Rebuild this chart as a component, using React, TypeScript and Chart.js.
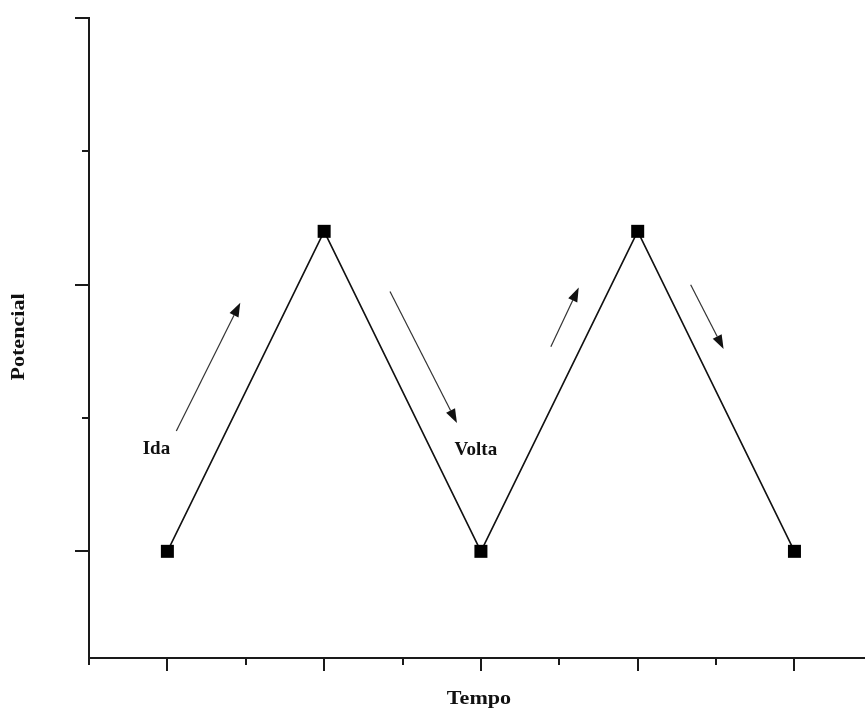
import React, { useEffect, useRef } from "react";
import { Chart, registerables } from "chart.js";

Chart.register(...registerables);

// Data
const tempo = [1, 2, 3, 4, 5];
const potencial = [0, 1.2, 0, 1.2, 0];

// Axis ticks
const xMajorTicks = [1, 2, 3, 4, 5];
const xMinorTicks = [0.5, 1.5, 2.5, 3.5, 4.5];
const yMajorTicks = [0, 1, 2];
const yMinorTicks = [0.5, 1.5];

// Annotations (data coordinates)
const arrowFrom = [
  [1.057, 0.451],
  [2.42, 0.974],
  [3.446, 0.767],
  [4.338, 1.0],
];
const arrowTo = [
  [1.465, 0.932],
  [2.847, 0.481],
  [3.624, 0.989],
  [4.548, 0.759],
];
const noteTexts = ["Ida", "Volta"];
const noteX = [0.93, 2.968];
const noteY = [0.383, 0.38];

const xTitle = "Tempo";
const yTitle = "Potencial";

const SERIF = '"Liberation Serif", "Times New Roman", serif';

const decorPlugin = {
  id: "decor",
  afterDraw(chart: any) {
    const { ctx, chartArea, scales } = chart;
    const xs = scales.x;
    const ys = scales.y;
    const { left, right, top, bottom } = chartArea;
    ctx.save();
    // arrows
    ctx.strokeStyle = "#333";
    ctx.fillStyle = "#111";
    ctx.lineWidth = 1.2;
    for (let i = 0; i < arrowFrom.length; i++) {
      const x1 = xs.getPixelForValue(arrowFrom[i][0]);
      const y1 = ys.getPixelForValue(arrowFrom[i][1]);
      const x2 = xs.getPixelForValue(arrowTo[i][0]);
      const y2 = ys.getPixelForValue(arrowTo[i][1]);
      const ang = Math.atan2(y2 - y1, x2 - x1);
      const hl = 14;
      const hw = 5;
      const bx = x2 - hl * Math.cos(ang);
      const by = y2 - hl * Math.sin(ang);
      ctx.beginPath();
      ctx.moveTo(x1, y1);
      ctx.lineTo(bx, by);
      ctx.stroke();
      ctx.beginPath();
      ctx.moveTo(x2, y2);
      ctx.lineTo(bx + hw * Math.sin(ang), by - hw * Math.cos(ang));
      ctx.lineTo(bx - hw * Math.sin(ang), by + hw * Math.cos(ang));
      ctx.closePath();
      ctx.fill();
    }
    // notes
    ctx.fillStyle = "#111";
    ctx.font = `bold 19px ${SERIF}`;
    ctx.textAlign = "center";
    ctx.textBaseline = "middle";
    for (let i = 0; i < noteTexts.length; i++) {
      ctx.fillText(noteTexts[i], xs.getPixelForValue(noteX[i]), ys.getPixelForValue(noteY[i]));
    }
    // axes
    ctx.strokeStyle = "#1a1a1a";
    ctx.lineWidth = 2;
    ctx.lineCap = "square";
    ctx.beginPath();
    ctx.moveTo(left, top);
    ctx.lineTo(left, bottom);
    ctx.lineTo(right, bottom);
    ctx.stroke();
    ctx.lineCap = "butt";
    ctx.beginPath();
    for (const v of xMajorTicks) {
      const p = Math.round(xs.getPixelForValue(v));
      ctx.moveTo(p, bottom);
      ctx.lineTo(p, bottom + 13);
    }
    for (const v of xMinorTicks) {
      const p = Math.round(xs.getPixelForValue(v));
      ctx.moveTo(p, bottom);
      ctx.lineTo(p, bottom + 7);
    }
    for (const v of yMajorTicks) {
      const p = Math.round(ys.getPixelForValue(v));
      ctx.moveTo(left, p);
      ctx.lineTo(left - 14, p);
    }
    for (const v of yMinorTicks) {
      const p = Math.round(ys.getPixelForValue(v));
      ctx.moveTo(left, p);
      ctx.lineTo(left - 7, p);
    }
    ctx.stroke();
    // axis titles
    ctx.fillStyle = "#111";
    ctx.font = `bold 17px ${SERIF}`;
    ctx.textAlign = "center";
    ctx.textBaseline = "middle";
    ctx.save();
    ctx.translate((left + right) / 2 + 2, 699);
    ctx.scale(1.3, 1.05);
    ctx.fillText(xTitle, 0, 0);
    ctx.restore();
    ctx.save();
    ctx.translate(19, 337);
    ctx.rotate(-Math.PI / 2);
    ctx.scale(1.3, 1.05);
    ctx.fillText(yTitle, 0, 0);
    ctx.restore();
    ctx.restore();
  },
};

export default function App() {
  const ref = useRef<HTMLCanvasElement | null>(null);
  useEffect(() => {
    if (!ref.current) return;
    const chart = new Chart(ref.current, {
      type: "line",
      data: {
        datasets: [
          {
            data: tempo.map((t, i) => ({ x: t, y: potencial[i] })),
            borderColor: "#111",
            borderWidth: 1.6,
            backgroundColor: "#000",
            pointStyle: "rect",
            pointRadius: 9.2,
            pointBorderWidth: 0,
            pointBackgroundColor: "#000",
            tension: 0,
            clip: false as any,
          },
        ],
      },
      options: {
        responsive: false,
        animation: false,
        layout: { autoPadding: false, padding: { left: 89, right: 0, top: 18, bottom: 52 } },
        plugins: { legend: { display: false }, tooltip: { enabled: false } },
        scales: {
          x: { type: "linear", min: 0.5, max: 5.45, display: false },
          y: { type: "linear", min: -0.4, max: 2.0, display: false },
        },
      },
      plugins: [decorPlugin],
    });
    return () => chart.destroy();
  }, []);
  return (
    <div style={{ position: "absolute", left: 0, top: 0, width: 865, height: 710, background: "#fff" }}>
      <canvas ref={ref} width={865} height={710} style={{ display: "block" }} />
    </div>
  );
}
